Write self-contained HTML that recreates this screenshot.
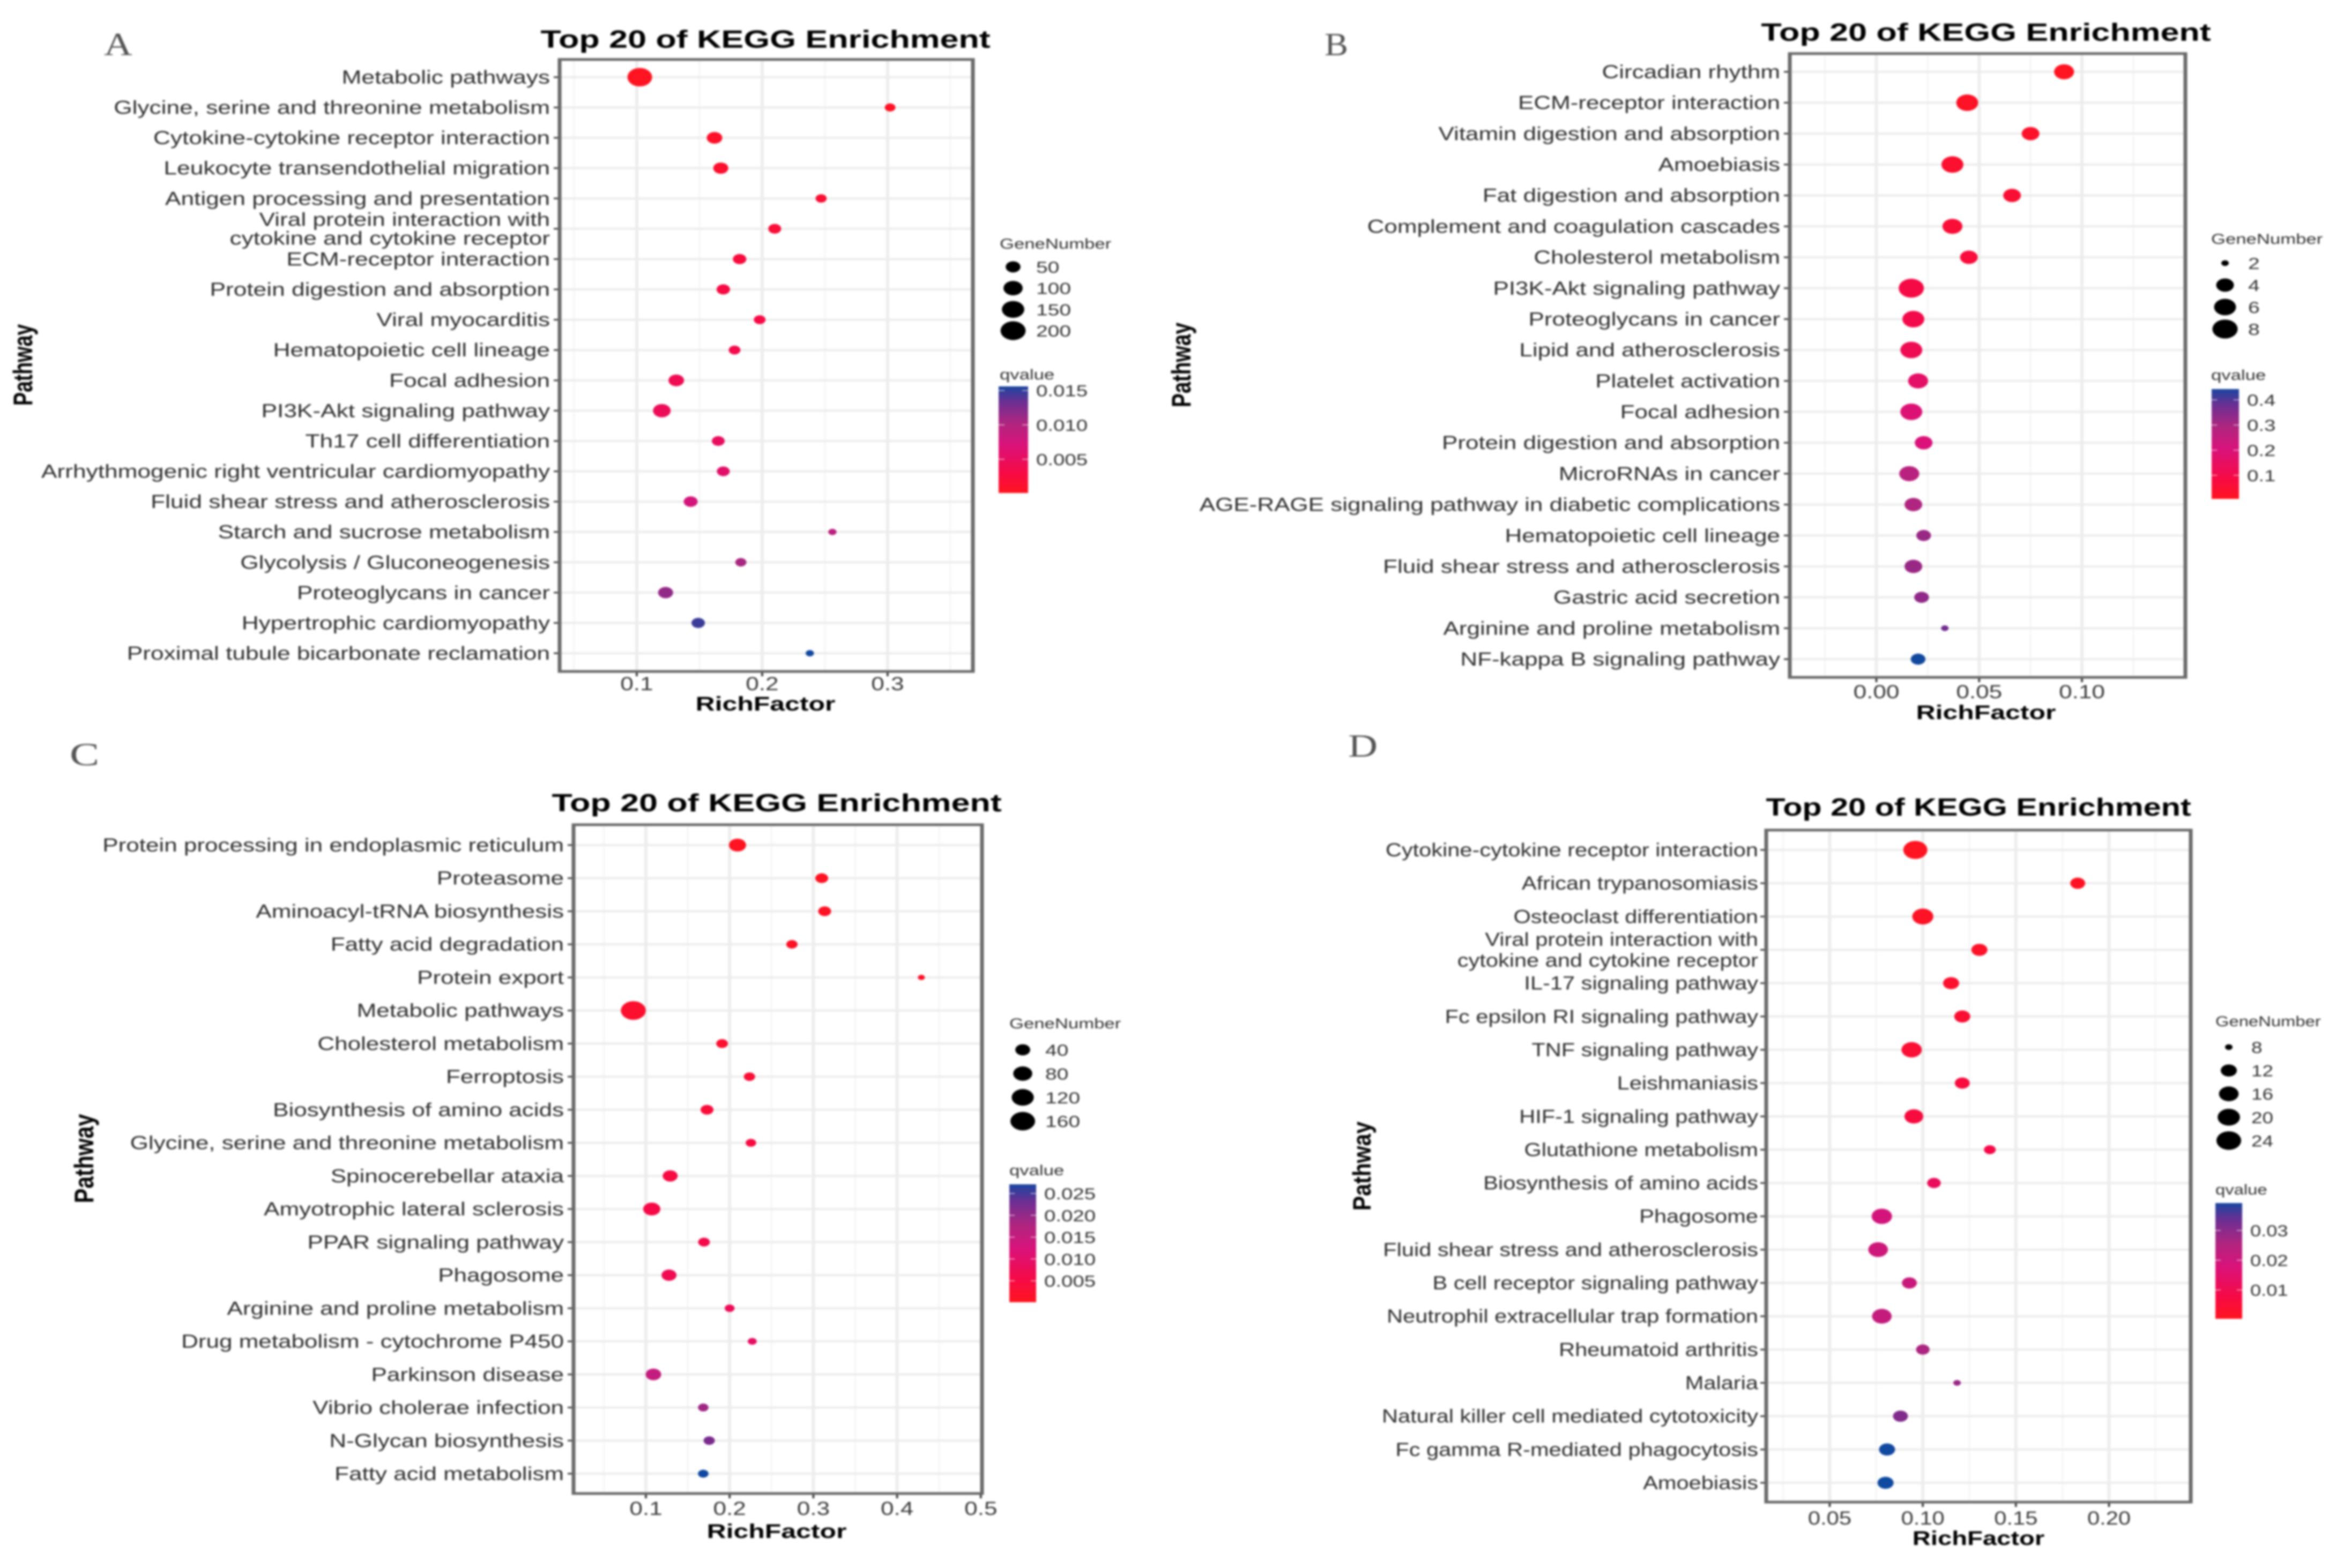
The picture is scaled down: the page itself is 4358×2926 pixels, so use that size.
<!DOCTYPE html>
<html lang="en">
<head>
<meta charset="utf-8">
<title>Top 20 of KEGG Enrichment panels</title>
<style>
html,body{margin:0;padding:0;background:#fff;width:4358px;height:2926px;overflow:hidden}
svg{display:block;filter:blur(1.9px)}
text{font-family:"Liberation Sans",sans-serif}
</style>
</head>
<body>
<svg id="root" xmlns="http://www.w3.org/2000/svg" width="4358" height="2926" viewBox="0 0 4358 2926">
<defs>
<linearGradient id="qGrad" x1="0" y1="1" x2="0" y2="0">
<stop offset="0" stop-color="#ff1420"/>
<stop offset="0.2" stop-color="#f50a47"/>
<stop offset="0.45" stop-color="#d9127a"/>
<stop offset="0.65" stop-color="#b0257f"/>
<stop offset="0.85" stop-color="#6d2e92"/>
<stop offset="1" stop-color="#1a469f"/>
</linearGradient>
</defs>
</svg>
<script>
// ---------- Panel A data ----------
const categoriesA = ["Metabolic pathways","Glycine, serine and threonine metabolism","Cytokine-cytokine receptor interaction","Leukocyte transendothelial migration","Antigen processing and presentation","Viral protein interaction with\ncytokine and cytokine receptor","ECM-receptor interaction","Protein digestion and absorption","Viral myocarditis","Hematopoietic cell lineage","Focal adhesion","PI3K-Akt signaling pathway","Th17 cell differentiation","Arrhythmogenic right ventricular cardiomyopathy","Fluid shear stress and atherosclerosis","Starch and sucrose metabolism","Glycolysis / Gluconeogenesis","Proteoglycans in cancer","Hypertrophic cardiomyopathy","Proximal tubule bicarbonate reclamation"];
const richA = [0.1024,0.302,0.162,0.167,0.247,0.21,0.182,0.169,0.198,0.178,0.1315,0.12,0.165,0.169,0.143,0.256,0.183,0.123,0.149,0.238];
const genesA = [193,23,57,52,25,35,39,39,28,28,57,80,35,35,43,16,25,52,39,16];
const qvalA = [0.0002,0.0005,0.0008,0.0012,0.0015,0.002,0.0025,0.0028,0.003,0.0035,0.004,0.0045,0.005,0.0058,0.0075,0.0095,0.0105,0.0115,0.0145,0.0155];
const xTicksA = [0.1,0.2,0.3];
const xLabelsA = ["0.1","0.2","0.3"];
const legendGenesA = [50,100,150,200];
const qTicksA = [0.005,0.01,0.015];
const qLabelsA = ["0.005","0.010","0.015"];

// ---------- Panel B data ----------
const categoriesB = ["Circadian rhythm","ECM-receptor interaction","Vitamin digestion and absorption","Amoebiasis","Fat digestion and absorption","Complement and coagulation cascades","Cholesterol metabolism","PI3K-Akt signaling pathway","Proteoglycans in cancer","Lipid and atherosclerosis","Platelet activation","Focal adhesion","Protein digestion and absorption","MicroRNAs in cancer","AGE-RAGE signaling pathway in diabetic complications","Hematopoietic cell lineage","Fluid shear stress and atherosclerosis","Gastric acid secretion","Arginine and proline metabolism","NF-kappa B signaling pathway"];
const richB = [0.0913,0.0442,0.075,0.037,0.066,0.037,0.045,0.017,0.018,0.017,0.0203,0.017,0.023,0.016,0.018,0.023,0.018,0.022,0.0333,0.0203];
const genesB = [5,6,4,6,4,5,4,8,6,6,5,6,4,5,4,3,4,3,2,3];
const qvalB = [0.01,0.02,0.03,0.04,0.05,0.06,0.07,0.09,0.1,0.12,0.16,0.19,0.2,0.27,0.29,0.32,0.32,0.33,0.37,0.44];
const xTicksB = [0,0.05,0.1];
const xLabelsB = ["0.00","0.05","0.10"];
const legendGenesB = [2,4,6,8];
const qTicksB = [0.1,0.2,0.3,0.4];
const qLabelsB = ["0.1","0.2","0.3","0.4"];

// ---------- Panel C data ----------
const categoriesC = ["Protein processing in endoplasmic reticulum","Proteasome","Aminoacyl-tRNA biosynthesis","Fatty acid degradation","Protein export","Metabolic pathways","Cholesterol metabolism","Ferroptosis","Biosynthesis of amino acids","Glycine, serine and threonine metabolism","Spinocerebellar ataxia","Amyotrophic lateral sclerosis","PPAR signaling pathway","Phagosome","Arginine and proline metabolism","Drug metabolism - cytochrome P450","Parkinson disease","Vibrio cholerae infection","N-Glycan biosynthesis","Fatty acid metabolism"];
const richC = [0.2094,0.31,0.3135,0.2744,0.429,0.085,0.191,0.2237,0.173,0.2254,0.129,0.107,0.1694,0.1276,0.2,0.227,0.109,0.1685,0.1756,0.1685];
const genesC = [60,27,27,19,10,165,21,19,27,16,41,60,21,41,14,12,45,16,19,16];
const qvalC = [0.0002,0.0005,0.0008,0.001,0.0015,0.002,0.0025,0.003,0.0035,0.0045,0.005,0.0055,0.006,0.007,0.0075,0.009,0.015,0.019,0.022,0.027];
const xTicksC = [0.1,0.2,0.3,0.4,0.5];
const xLabelsC = ["0.1","0.2","0.3","0.4","0.5"];
const legendGenesC = [40,80,120,160];
const qTicksC = [0.005,0.01,0.015,0.02,0.025];
const qLabelsC = ["0.005","0.010","0.015","0.020","0.025"];

// ---------- Panel D data ----------
const categoriesD = ["Cytokine-cytokine receptor interaction","African trypanosomiasis","Osteoclast differentiation","Viral protein interaction with\ncytokine and cytokine receptor","IL-17 signaling pathway","Fc epsilon RI signaling pathway","TNF signaling pathway","Leishmaniasis","HIF-1 signaling pathway","Glutathione metabolism","Biosynthesis of amino acids","Phagosome","Fluid shear stress and atherosclerosis","B cell receptor signaling pathway","Neutrophil extracellular trap formation","Rheumatoid arthritis","Malaria","Natural killer cell mediated cytotoxicity","Fc gamma R-mediated phagocytosis","Amoebiasis"];
const richD = [0.096,0.1832,0.1,0.1304,0.1152,0.1212,0.094,0.1212,0.0952,0.136,0.106,0.078,0.076,0.0928,0.078,0.1,0.1184,0.088,0.0808,0.08];
const genesD = [23,11,18,12,12,12,17,11,15,9,10,17,16,11,16,10,8,11,12,12];
const qvalD = [0.0005,0.001,0.0015,0.002,0.003,0.004,0.0045,0.006,0.0065,0.008,0.012,0.019,0.02,0.021,0.022,0.026,0.028,0.031,0.039,0.0392];
const xTicksD = [0.05,0.1,0.15,0.2];
const xLabelsD = ["0.05","0.10","0.15","0.20"];
const legendGenesD = [8,12,16,20,24];
const qTicksD = [0.01,0.02,0.03];
const qLabelsD = ["0.01","0.02","0.03"];

// ---------- Layout (geometry only) ----------
const panels = [
 {id:'a',letter:'A',letterX:194,letterY:103,letterSx:1.22,cats:categoriesA,rich:richA,genes:genesA,qv:qvalA,xt:xTicksA,xl:xLabelsA,lg:legendGenesA,qt:qTicksA,ql:qLabelsA,
  L:1044,R:1815,T:111,B:1253,rowFirst:144,rowLast:1219,xDom:[0.0385,0.368],cx:1428,titleY:89,tickY:1288,richY:1326,pathX:60,pathY:681,pathSize:37.5,labelR:1026,f:1,lf:1.006,wrap:17.5,
  size:{gmin:15,gmax:215,dmin:13,dmax:48},legX:1865,legTitleY:464,legDotX:1890,legLabelX:1933,legY0:498,legStep:39.7,qTitleY:708,barL:1863,barR:1918,barT:721,barB:920,qDom:[0.0001,0.0156]},
 {id:'b',letter:'B',letterX:2471,letterY:103,letterSx:1.1,cats:categoriesB,rich:richB,genes:genesB,qv:qvalB,xt:xTicksB,xl:xLabelsB,lg:legendGenesB,qt:qTicksB,ql:qLabelsB,
  L:3339,R:4077,T:100,B:1264,rowFirst:134,rowLast:1230,xDom:[-0.0421,0.1503],cx:3705,titleY:76,tickY:1303,richY:1342,pathX:2221,pathY:681,pathSize:39,labelR:3321,f:1,lf:1,wrap:17.5,
  size:{gmin:2,gmax:8,dmin:14,dmax:47},legX:4125,legTitleY:455,legDotX:4151,legLabelX:4194,legY0:491,legStep:41,qTitleY:709,barL:4126,barR:4177,barT:726,barB:931,qDom:[0.0062,0.443]},
 {id:'c',letter:'C',letterX:130,letterY:1428,letterSx:1.38,cats:categoriesC,rich:richC,genes:genesC,qv:qvalC,xt:xTicksC,xl:xLabelsC,lg:legendGenesC,qt:qTicksC,ql:qLabelsC,
  L:1070,R:1832,T:1539,B:2787,rowFirst:1577,rowLast:2750,xDom:[0.0136,0.5014],cx:1449,titleY:1514,tickY:2827,richY:2870,pathX:174,pathY:2162,pathSize:41,labelR:1052,f:1,lf:1,wrap:17.5,
  size:{gmin:10,gmax:165,dmin:13,dmax:46.5},legX:1883,legTitleY:1919,legDotX:1908,legLabelX:1950,legY0:1959,legStep:44.4,qTitleY:2193,barL:1883,barR:1933,barT:2210,barB:2430,qDom:[0.0001,0.0271]},
 {id:'d',letter:'D',letterX:2515,letterY:1412,letterSx:1.27,cats:categoriesD,rich:richD,genes:genesD,qv:qvalD,xt:xTicksD,xl:xLabelsD,lg:legendGenesD,qt:qTicksD,ql:qLabelsD,
  L:3295,R:4087,T:1549,B:2803,rowFirst:1586,rowLast:2767,xDom:[0.0159,0.2439],cx:3691,titleY:1522,tickY:2845,richY:2883,pathX:2557,pathY:2176,pathSize:41,labelR:3280,f:0.945,lf:1,wrap:19.5,
  size:{gmin:8,gmax:25,dmin:14,dmax:47},legX:4133,legTitleY:1915,legDotX:4158,legLabelX:4200,legY0:1954,legStep:43.6,qTitleY:2229,barL:4133,barR:4183,barT:2245,barB:2461,qDom:[0.0003,0.0392]}
];

const NS = 'http://www.w3.org/2000/svg';
const root = document.getElementById('root');
const colorStops = [[0,[255,20,32]],[0.2,[245,10,71]],[0.45,[217,18,122]],[0.65,[176,37,127]],[0.85,[109,46,146]],[1,[14,74,160]]];
const ELLIPSE = 1.33;

function colorAt(t){
  t = Math.max(0, Math.min(1, t));
  for (let i = 1; i < colorStops.length; i++) {
    if (t <= colorStops[i][0]) {
      const a = colorStops[i-1], b = colorStops[i];
      const u = (t - a[0]) / (b[0] - a[0]);
      const c = a[1].map((v, k) => Math.round(v + (b[1][k] - v) * u));
      return 'rgb(' + c.join(',') + ')';
    }
  }
  return 'rgb(14,74,160)';
}

function make(parent, tag, name, attrs){
  const el = document.createElementNS(NS, tag);
  
  
  for (const k in attrs) el.setAttribute(k, attrs[k]);
  parent.appendChild(el);
  return el;
}

function label(parent, name, str, x, y, size, sx, anchor, fill, weight, family){
  const el = make(parent, 'text', name, {
    transform: 'translate(' + x + ',' + y + ') scale(' + sx + ',1)',
    'font-size': size, 'text-anchor': anchor, fill: fill, 'font-weight': weight || 'normal'
  });
  if (family) el.style.fontFamily = family;
  el.textContent = str;
  return el;
}

function drawPanel(p){
  const g = make(root, 'g', 'panel-' + p.id, {});
  const xScale = v => p.L + (v - p.xDom[0]) / (p.xDom[1] - p.xDom[0]) * (p.R - p.L);
  const yScale = i => p.rowFirst + i * (p.rowLast - p.rowFirst) / (p.cats.length - 1);
  const dScale = n => p.size.dmin + (p.size.dmax - p.size.dmin) * Math.sqrt(Math.max(0, n - p.size.gmin) / (p.size.gmax - p.size.gmin));
  const qT = q => (q - p.qDom[0]) / (p.qDom[1] - p.qDom[0]);
  const f = p.f;
  const labelSx = 1.257 * f * p.lf;

  label(g, 'panel-letter-' + p.id, p.letter, p.letterX, p.letterY, 60, p.letterSx, 'start', '#555', 'normal', '"Liberation Serif",serif');
  label(g, 'chart-title-' + p.id, 'Top 20 of KEGG Enrichment', p.cx, p.titleY, 46, 1.365 * f, 'middle', '#000', 'bold');

  make(g, 'rect', 'panel-border-' + p.id, {x: p.L - 3.5, y: p.T - 2.5, width: p.R - p.L + 7, height: p.B - p.T + 5, fill: '#6a6a6a'});
  make(g, 'rect', 'plot-background-' + p.id, {x: p.L + 3.5, y: p.T + 2.5, width: p.R - p.L - 7, height: p.B - p.T - 5, fill: '#fff'});

  const step = p.xt[1] - p.xt[0];
  for (let v = p.xt[0] - step * 3.5; v < p.xDom[1]; v += step) {
    if (v <= p.xDom[0]) continue;
    const px = xScale(v);
    make(g, 'line', 'minor-gridline-' + p.id, {x1: px, x2: px, y1: p.T + 3, y2: p.B - 3, stroke: '#f5f5f5', 'stroke-width': 3});
  }
  p.xt.forEach(v => {
    const px = xScale(v);
    if (px > p.R - 4) return;
    make(g, 'line', 'major-gridline-' + p.id, {x1: px, x2: px, y1: p.T + 3, y2: p.B - 3, stroke: '#ededed', 'stroke-width': 6});
  });
  p.cats.forEach((c, i) => {
    const py = yScale(i);
    make(g, 'line', 'row-gridline-' + p.id, {x1: p.L + 4, x2: p.R - 4, y1: py, y2: py, stroke: '#ececec', 'stroke-width': 4});
    make(g, 'line', 'y-tick-' + p.id, {x1: p.L - 11, x2: p.L - 3, y1: py, y2: py, stroke: '#444', 'stroke-width': 3});
    const lines = c.split('\n');
    if (lines.length > 1) {
      label(g, 'y-label-' + p.id, lines[0], p.labelR, py - p.wrap + 12, 35, labelSx, 'end', '#2e2e2e');
      label(g, 'y-label-' + p.id, lines[1], p.labelR, py + p.wrap + 12, 35, labelSx, 'end', '#2e2e2e');
    } else {
      label(g, 'y-label-' + p.id, c, p.labelR, py + 12, 35, labelSx, 'end', '#2e2e2e');
    }
  });
  p.xt.forEach((v, i) => {
    const px = xScale(v);
    make(g, 'line', 'x-tick-' + p.id, {x1: px, x2: px, y1: p.B + 2, y2: p.B + 9, stroke: '#444', 'stroke-width': 4});
    label(g, 'x-tick-label-' + p.id, p.xl[i], px, p.tickY, 35, 1.26 * f, 'middle', '#3a3a3a');
  });

  p.rich.forEach((r, i) => {
    const d = dScale(p.genes[i]);
    make(g, 'ellipse', 'dot-' + p.id + '-' + i, {cx: xScale(r), cy: yScale(i), rx: d / 2, ry: d / 2 / ELLIPSE, fill: colorAt(qT(p.qv[i]))});
  });

  label(g, 'x-axis-title-' + p.id, 'RichFactor', p.cx, p.richY, 37, 1.35 * f, 'middle', '#000', 'bold');
  const pw = make(g, 'text', 'y-axis-title-' + p.id, {
    transform: 'translate(' + p.pathX + ',' + p.pathY + ') scale(' + (1.35 * f * 37 / p.pathSize) + ',1) rotate(-90)',
    'font-size': p.pathSize, 'text-anchor': 'middle', 'font-weight': 'bold', fill: '#000'
  });
  pw.textContent = 'Pathway';

  label(g, 'size-legend-title-' + p.id, 'GeneNumber', p.legX, p.legTitleY, 27, 1.285 * f, 'start', '#333');
  p.lg.forEach((n, i) => {
    const py = p.legY0 + i * p.legStep;
    const d = dScale(n);
    make(g, 'ellipse', 'size-legend-dot-' + p.id, {cx: p.legDotX, cy: py, rx: d / 2, ry: d / 2 / ELLIPSE, fill: '#000'});
    label(g, 'size-legend-label-' + p.id, String(n), p.legLabelX, py + 11, 30, 1.3 * f, 'start', '#333');
  });

  label(g, 'color-legend-title-' + p.id, 'qvalue', p.legX, p.qTitleY, 27, 1.285 * f, 'start', '#333');
  make(g, 'rect', 'color-legend-bar-' + p.id, {x: p.barL, y: p.barT, width: p.barR - p.barL, height: p.barB - p.barT, fill: 'url(#qGrad)'});
  p.qt.forEach((q, i) => {
    const py = p.barB - qT(q) * (p.barB - p.barT);
    const w = (p.barR - p.barL) / 5;
    make(g, 'line', 'color-legend-tick-' + p.id, {x1: p.barL, x2: p.barL + w, y1: py, y2: py, stroke: '#ffffff', 'stroke-width': 1.5, opacity: 0.7});
    make(g, 'line', 'color-legend-tick-' + p.id, {x1: p.barR - w, x2: p.barR, y1: py, y2: py, stroke: '#ffffff', 'stroke-width': 1.5, opacity: 0.7});
    label(g, 'color-legend-label-' + p.id, p.ql[i], p.barR + 15, py + 11, 30, 1.28 * f, 'start', '#333');
  });
}

panels.forEach(drawPanel);
</script>
</body>
</html>
